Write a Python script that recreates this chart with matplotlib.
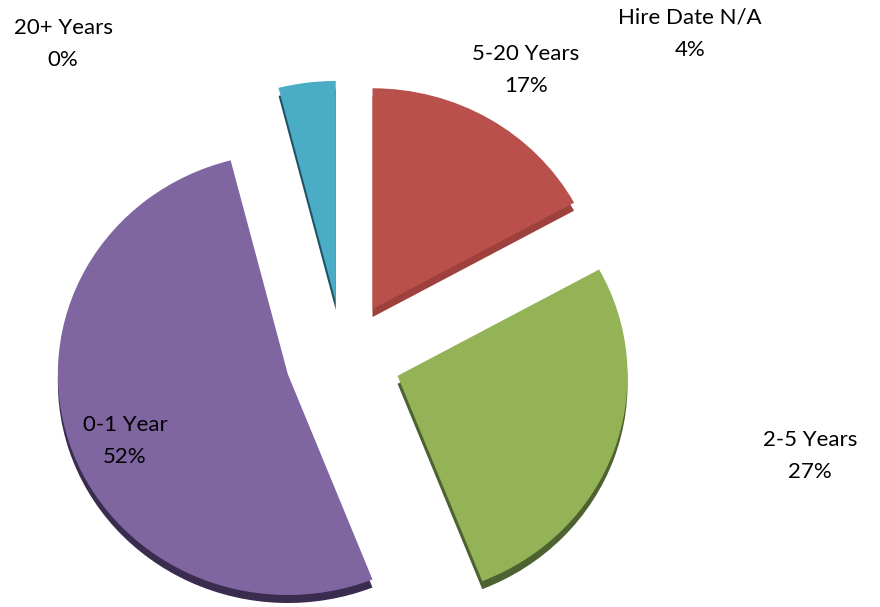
import matplotlib
matplotlib.use("Agg")
import matplotlib.pyplot as plt

# data, clockwise from 12 o'clock
categories = ["5-20 Years", "2-5 Years", "0-1 Year", "20+ Years", "Hire Date N/A"]
values = [17, 27, 52, 0, 4]
top_colors = ["#B9504B", "#93B356", "#7F66A0", "#F79646", "#4BACC6"]
side_colors = ["#9E403C", "#4D6230", "#3A2C4E", "#9A5A20", "#1E5361"]

# label placement (pixels, y from top) -- Excel put them by hand more or less
label_pos = {
    "5-20 Years": (526, 70),
    "2-5 Years": (810, 456),
    "0-1 Year": (125, 441),
    "20+ Years": (63, 44),
    "Hire Date N/A": (690, 34),
}

W, H = 880, 607
radius = 230
cx, cy = 343, H - 357      # pie centre, y from bottom
explode_px = [58] * len(values)
depth = 8
squash = 0.96              # slight tilt of the 3d pie

plt.rcParams['font.family'] = ['Lato', 'DejaVu Sans']

fig = plt.figure(figsize=(W / 100, H / 100), dpi=100)
ax = fig.add_axes([0, 0, 1, 1])

# side faces: same pie shifted down a bit, darker
ax.pie(values, colors=side_colors, startangle=90, counterclock=False,
       radius=radius, center=(cx, cy - depth / squash),
       explode=explode_px, wedgeprops=dict(linewidth=0), frame=True)
# top faces
ax.pie(values, colors=top_colors, startangle=90, counterclock=False,
       radius=radius, center=(cx, cy),
       explode=explode_px, wedgeprops=dict(linewidth=0), frame=True)

total = sum(values)
for cat, v in zip(categories, values):
    px, py = label_pos[cat]
    ax.text(px / W, 1 - py / H, f"{cat}\n{round(100 * v / total)}%",
            transform=ax.transAxes, ha="center", va="center",
            fontsize=16, color="black", linespacing=1.75)

ax.set_aspect("auto")
ax.set_xlim(0, W)
ax.set_ylim(cy - cy / squash, cy + (H - cy) / squash)
ax.axis("off")

fig.savefig("out.png", dpi=100, facecolor="white")
